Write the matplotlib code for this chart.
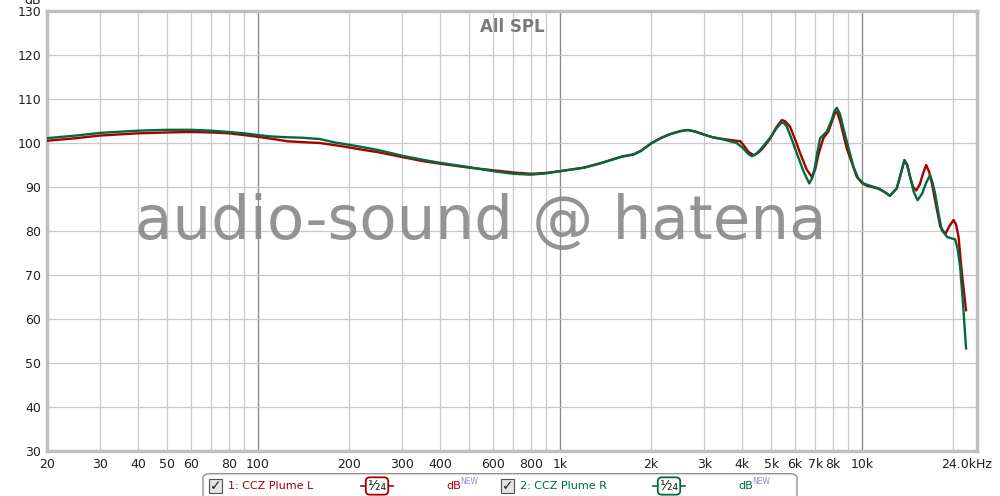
import numpy as np
import matplotlib
matplotlib.use('Agg')
import matplotlib.pyplot as plt
import matplotlib.transforms as mtrans
from matplotlib.patches import FancyBboxPatch, Rectangle

# frequency response
freq_r = [20, 25, 30, 40, 50, 60, 70, 80, 90, 100, 110, 125, 140, 160, 180, 200, 220, 250,
          300, 350, 400, 500, 600, 700, 800, 900, 1000, 1200, 1360, 1600, 1750, 1850, 2000,
          2150, 2310, 2500, 2650, 2800, 3000, 3200, 3470, 3840, 4040, 4180, 4310, 4450, 4590,
          4960, 5200, 5380, 5500, 5630, 5850, 6070, 6400, 6680, 6850, 6980, 7100, 7260, 7640,
          7900, 8100, 8250, 8450, 8780, 9360, 9700, 10100, 10620, 11330, 11900, 12360, 13020,
          13400, 13800, 14100, 14410, 14800, 15250, 15800, 16300, 16780, 17100, 17430, 17900,
          18350, 19150, 20320, 20700, 21100, 21600, 22080]
spl_r = [101.1, 101.7, 102.3, 102.8, 103.0, 103.0, 102.8, 102.5, 102.2, 101.8, 101.5, 101.3,
         101.2, 100.9, 100.1, 99.6, 99.1, 98.4, 97.1, 96.2, 95.5, 94.5, 93.6, 93.0, 92.8, 93.1,
         93.6, 94.4, 95.4, 96.9, 97.4, 98.2, 99.9, 101.1, 102.0, 102.7, 102.95, 102.6, 101.9,
         101.3, 100.8, 100.0, 98.8, 97.6, 97.0, 97.5, 98.4, 101.2, 103.3, 104.5, 104.6, 103.7,
         100.8, 97.7, 93.5, 90.8, 92.2, 94.6, 97.8, 101.1, 102.6, 105.0, 107.3, 108.0, 106.5,
         101.8, 94.6, 92.0, 90.8, 90.3, 89.7, 88.8, 88.0, 89.7, 92.8, 96.1, 95.0, 92.3, 89.0,
         87.0, 88.5, 91.0, 92.7, 91.0, 88.6, 84.0, 80.2, 78.6, 78.1, 76.0, 71.9, 63.0, 53.3]

freq_l = [20, 25, 30, 40, 50, 60, 70, 80, 90, 100, 110, 125, 140, 160, 180, 200, 220, 250,
          300, 350, 400, 500, 600, 700, 800, 900, 1000, 1200, 1360, 1600, 1750, 1850, 2000,
          2150, 2310, 2500, 2650, 2800, 3000, 3200, 3470, 3840, 3950, 4040, 4200, 4380, 4550,
          4700, 4960, 5200, 5420, 5550, 5770, 6000, 6230, 6550, 6810, 6990, 7160, 7440, 7730,
          7950, 8130, 8250, 8450, 8890, 9600, 10000, 10360, 11330, 11900, 12360, 13020, 13400,
          13800, 14100, 14410, 14750, 15090, 15500, 15900, 16290, 16650, 17020, 17600, 18140,
          18850, 19400, 20070, 20450, 20850, 21390, 22080]
spl_l = [100.5, 101.1, 101.7, 102.2, 102.4, 102.5, 102.4, 102.2, 101.8, 101.4, 101.0, 100.4,
         100.2, 100.0, 99.5, 99.0, 98.5, 97.9, 96.8, 95.9, 95.3, 94.4, 93.8, 93.3, 93.0, 93.2,
         93.6, 94.4, 95.4, 96.9, 97.4, 98.2, 99.9, 101.1, 102.0, 102.7, 102.95, 102.6, 101.9,
         101.3, 100.9, 100.5, 100.4, 99.6, 98.0, 97.2, 97.9, 98.9, 101.0, 103.6, 105.2, 105.0,
         103.7, 100.8, 97.7, 94.0, 92.3, 94.0, 97.3, 101.1, 102.6, 105.0, 106.8, 107.1, 105.0,
         98.8, 92.3, 90.9, 90.3, 89.6, 88.8, 88.0, 89.7, 92.8, 96.1, 95.0, 92.3, 90.0, 89.2,
         90.5, 93.0, 95.0, 93.5, 90.8, 85.5, 81.0, 79.3, 81.0, 82.5, 81.5, 78.7, 70.4, 62.0]

xticks = [20, 30, 40, 50, 60, 80, 100, 200, 300, 400, 600, 800, 1000, 2000, 3000, 4000,
          5000, 6000, 7000, 8000, 10000, 24000]
xlabels = ['20', '30', '40', '50', '60', '80', '100', '200', '300', '400', '600', '800',
           '1k', '2k', '3k', '4k', '5k', '6k', '7k', '8k', '10k', '24.0kHz']
yticks = list(range(30, 131, 10))

RED = '#a80000'
GREEN = '#006a3c'

fig = plt.figure(figsize=(10, 4.96), dpi=100)
ax = fig.add_axes([0.047, 1 - 451 / 496, 0.930, 440 / 496])
ax.set_xscale('log')
ax.set_xlim(20, 24000)
ax.set_ylim(30, 130)

# grid
minor = [m * 10 ** e for e in range(1, 5) for m in range(2, 10)]
minor = [f for f in minor if 20 < f < 24000]
for f in minor:
    ax.axvline(f, color='#c8c8c8', lw=0.9, zorder=0)
for f in [100, 1000, 10000]:
    ax.axvline(f, color='#8c8c8c', lw=1.0, zorder=0)
for y in yticks[1:-1]:
    ax.axhline(y, color='#c8c8c8', lw=0.9, zorder=0)

ax.plot(freq_l, spl_l, color=RED, lw=1.7, zorder=3, solid_joinstyle='round')
ax.plot(freq_r, spl_r, color=GREEN, lw=1.7, zorder=4, solid_joinstyle='round')

ax.set_xticks(xticks)
ax.set_xticklabels(xlabels)
ax.xaxis.set_minor_locator(matplotlib.ticker.NullLocator())
ax.set_yticks(yticks)
ax.tick_params(length=0, labelsize=9, colors='#202020', pad=4)
ax.tick_params(axis='x', pad=5)
last = ax.get_xticklabels()[-1]
last.set_transform(last.get_transform() + mtrans.ScaledTranslation(-0.1, 0, fig.dpi_scale_trans))
for s in ax.spines.values():
    s.set_color('#c0c0c0')
    s.set_linewidth(2.5)

fig.text(0.041, 0.999, 'dB', ha='right', va='center', fontsize=9, color='#202020')
ax.text(0.5, 0.985, 'All SPL', transform=ax.transAxes, ha='center', va='top',
        fontsize=12, fontweight='bold', color='#7a7a7a')
ax.text(0.466, 0.52, 'audio-sound @ hatena', transform=ax.transAxes, ha='center',
        va='center', fontsize=44, color='#888888', alpha=0.9, zorder=5)

# legend panel at bottom
panel = FancyBboxPatch((0.203, -0.05), 0.594, 0.095, boxstyle='round,pad=0,rounding_size=0.008',
                       transform=fig.transFigure, facecolor='white', edgecolor='#909090',
                       lw=1.0, zorder=1)
fig.patches.append(panel)

def entry(x0, label, color):
    yb = 1 - 486 / 496
    fig.patches.append(Rectangle((x0, yb - 0.014), 0.013, 0.028, transform=fig.transFigure,
                                 facecolor='#e4e4e4', edgecolor='#505050', lw=0.8, zorder=2))
    fig.text(x0 + 0.0065, yb, '\u2713', ha='center', va='center', fontsize=10,
             fontweight='bold', color='#202020', zorder=3)
    fig.text(x0 + 0.019, yb, label, ha='left', va='center', fontsize=8, color=color)
    fig.lines.append(plt.Line2D([x0 + 0.152, x0 + 0.184], [yb, yb], transform=fig.transFigure,
                                color=color, lw=1.2, zorder=2))
    fig.text(x0 + 0.168, yb, '\u00b9\u2044\u2082\u2084', ha='center', va='center', fontsize=10,
             color='#202020', zorder=3,
             bbox=dict(boxstyle='round,pad=0.12,rounding_size=0.3', facecolor='white',
                       edgecolor=color, lw=1.3))
    fig.text(x0 + 0.237, yb, 'dB', ha='left', va='center', fontsize=8, color=color)
    fig.text(x0 + 0.251, yb + 0.009, 'NEW', ha='left', va='center', fontsize=5.5,
             color='#9090d0')

entry(0.209, '1: CCZ Plume L', RED)
entry(0.501, '2: CCZ Plume R', GREEN)

fig.savefig('out.png', dpi=100, facecolor='white')
